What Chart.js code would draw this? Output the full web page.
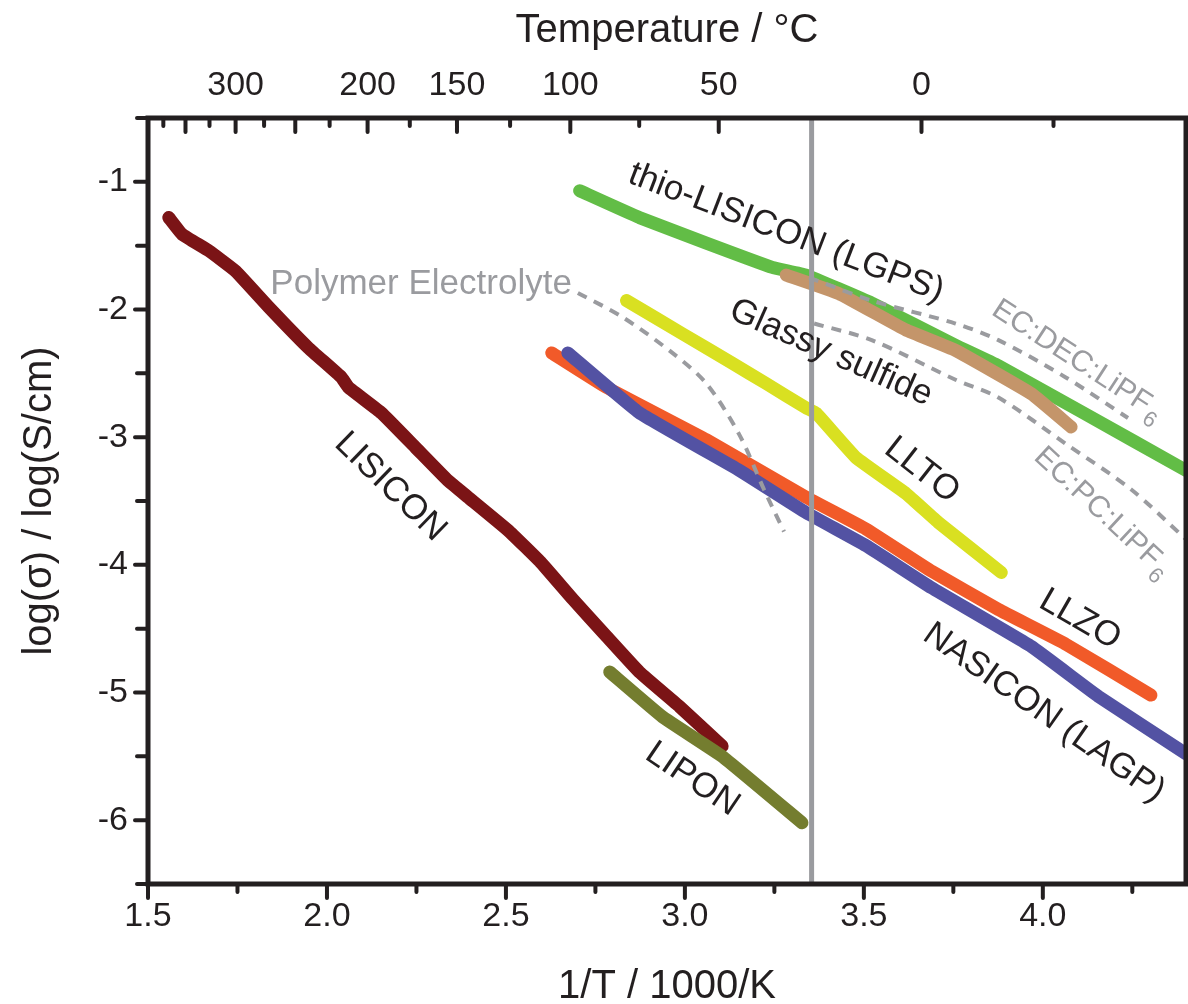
<!DOCTYPE html>
<html>
<head>
<meta charset="utf-8">
<script src="https://cdn.jsdelivr.net/npm/chart.js@4.4.1/dist/chart.umd.min.js"></script>
<style>
	html, body { margin: 0; padding: 0; background: #fff; }
</style>
</head>
<body>
<canvas id="chart" width="1188" height="1004"></canvas>
<script>
"use strict";

// 1/T (1000/K) vs log(sigma)
const lisicon = [[1.558, -1.28], [1.595, -1.41], [1.670, -1.54], [1.745, -1.70], [1.837, -1.98], [1.948, -2.30],
	[2.040, -2.53], [2.060, -2.61], [2.152, -2.81], [2.247, -3.08], [2.338, -3.34], [2.394, -3.47], [2.506, -3.73],
	[2.597, -3.98], [2.687, -4.27], [2.781, -4.56], [2.873, -4.84], [2.985, -5.11], [3.104, -5.42]];
const lipon = [[2.790, -4.84], [2.937, -5.19], [3.104, -5.50], [3.327, -6.02]];
const lgps = [[2.706, -1.07], [2.873, -1.28], [3.060, -1.48], [3.244, -1.67], [3.338, -1.73], [3.522, -1.95],
	[3.756, -2.28], [3.876, -2.44], [4.107, -2.80], [4.40, -3.26]];
const glassy = [[3.283, -1.73], [3.430, -1.875], [3.617, -2.16], [3.756, -2.32], [3.968, -2.66], [4.079, -2.92]];
const llto = [[2.837, -1.93], [2.993, -2.19], [3.132, -2.42], [3.227, -2.58], [3.338, -2.77], [3.366, -2.81],
	[3.478, -3.16], [3.617, -3.44], [3.709, -3.67], [3.884, -4.06]];
const llzo = [[2.628, -2.34], [2.781, -2.61], [3.060, -3.02], [3.338, -3.47], [3.506, -3.72], [3.689, -4.05],
	[3.876, -4.35], [4.063, -4.62], [4.302, -5.02]];
const nasicon = [[2.673, -2.34], [2.873, -2.81], [3.152, -3.26], [3.338, -3.59], [3.506, -3.85], [3.689, -4.18],
	[3.968, -4.64], [4.155, -5.03], [4.40, -5.48]];
const polymer = [[2.701, -1.87], [2.826, -2.06], [2.965, -2.34], [3.060, -2.58], [3.152, -2.98], [3.221, -3.41],
	[3.277, -3.74]];
const ecDec = [[3.347, -1.75], [3.522, -1.93], [3.756, -2.11], [3.876, -2.24], [4.063, -2.53], [4.238, -2.85]];
const ecPc = [[3.361, -2.11], [3.522, -2.24], [3.756, -2.55], [3.876, -2.69], [4.063, -3.05], [4.247, -3.41],
	[4.40, -3.80]];
const roomTemp = 3.354; // 25 °C

const xTicks = [1.5, 2.0, 2.5, 3.0, 3.5, 4.0];
const yTicks = [-6, -5, -4, -3, -2, -1];
const tempLabels = [300, 200, 150, 100, 50, 0];
const tempMarks = [375, 350, 325, 300, 275, 250, 225, 200, 175, 150, 125, 100, 75, 50, 0, -25];

// text, x, y, angle (deg), grey?
const labels = [
	["thio-LISICON (LGPS)", 3.283, -1.40, 21, false],
	["Polymer Electrolyte", 2.263, -1.80, 0, true],
	["Glassy sulfide", 3.408, -2.34, 24, false],
	["LLTO", 3.662, -3.26, 38, false],
	["LLZO", 4.104, -4.43, 30, false],
	["NASICON (LAGP)", 4.003, -5.16, 35, false],
	["LISICON", 2.177, -3.39, 44, false],
	["LIPON", 3.021, -5.68, 34, false],
	["EC:DEC:LiPF|6", 4.097, -2.40, 33, true],
	["EC:PC:LiPF|6", 4.167, -3.59, 43, true],
];

const INK = "#231f20";
const GREY = "#9a9b9f";
const AXIS_FONT = "'Liberation Sans', Arial, Helvetica, sans-serif";
const LABEL_FONT = "'Liberation Sans', Arial, Helvetica, sans-serif";

function pts(arr) {
	return arr.map(p => ({ x: p[0], y: p[1] }));
}

function solid(data, color, order) {
	return {
		data: pts(data),
		borderColor: color,
		borderWidth: 13,
		borderCapStyle: "round",
		borderJoinStyle: "round",
		pointRadius: 0,
		tension: 0.1,
		order: order,
	};
}

function dashed(data, order) {
	return {
		data: pts(data),
		borderColor: GREY,
		borderWidth: 4,
		borderDash: [10, 8],
		pointRadius: 0,
		tension: 0.3,
		order: order,
	};
}

const frame = {
	id: "frame",
	afterDatasetsDraw(chart) {
		const ctx = chart.ctx;
		const a = chart.chartArea;
		const sx = chart.scales.x;
		const sy = chart.scales.y;
		ctx.save();

		// labels on the curves
		for (const [text, x, y, angle, grey] of labels) {
			const px = sx.getPixelForValue(x);
			const py = sy.getPixelForValue(y);
			const parts = text.split("|");
			const mainFont = `${parts.length > 1 ? 30 : 35}px ${LABEL_FONT}`;
			const subFont = `22px ${LABEL_FONT}`;
			ctx.save();
			ctx.translate(px, py);
			ctx.rotate(angle * Math.PI / 180);
			ctx.fillStyle = grey ? GREY : INK;
			ctx.textBaseline = "middle";
			ctx.textAlign = "left";
			ctx.font = mainFont;
			const w = ctx.measureText(parts[0]).width;
			let sub = 0;
			if (parts.length > 1) {
				ctx.font = subFont;
				sub = ctx.measureText(parts[1]).width + 2;
			}
			const x0 = -(w + sub) / 2;
			ctx.font = mainFont;
			ctx.fillText(parts[0], x0, 0);
			if (parts.length > 1) {
				ctx.font = subFont;
				ctx.fillText(parts[1], x0 + w + 2, 11);
			}
			ctx.restore();
		}

		// box
		ctx.strokeStyle = INK;
		ctx.lineWidth = 5;
		ctx.strokeRect(a.left, a.top, a.right - a.left, a.bottom - a.top);

		ctx.lineWidth = 4;
		ctx.lineCap = "round";
		ctx.beginPath();
		// bottom ticks, outside
		for (let v = 1.5; v <= 4.4; v += 0.25) {
			const px = sx.getPixelForValue(v);
			const major = Math.abs(v * 2 - Math.round(v * 2)) < 1e-6;
			ctx.moveTo(px, a.bottom);
			ctx.lineTo(px, a.bottom + (major ? 14 : 8));
		}
		// top ticks, inside
		for (const t of tempMarks) {
			const px = sx.getPixelForValue(1000 / (t + 273.15));
			const major = t % 50 === 0;
			ctx.moveTo(px, a.top);
			ctx.lineTo(px, a.top + (major ? 14 : 8));
		}
		// left ticks, outside
		for (let v = -6.5; v <= -0.5; v += 0.5) {
			const py = sy.getPixelForValue(v);
			const major = Number.isInteger(v);
			ctx.moveTo(a.left, py);
			ctx.lineTo(a.left - (major ? 13 : 11), py);
		}
		ctx.stroke();
		ctx.restore();
	},
};

const tickFont = { family: AXIS_FONT, size: 34 };
const titleFont = { family: AXIS_FONT, size: 40 };

new Chart(document.getElementById("chart"), {
	type: "line",
	data: {
		datasets: [
			{
				data: pts([[roomTemp, -6.5], [roomTemp, -0.5]]),
				borderColor: GREY,
				borderWidth: 5,
				pointRadius: 0,
				order: 0,
			},
			dashed(ecDec, 1),
			dashed(ecPc, 2),
			dashed(polymer, 3),
			solid(glassy, "#c4956a", 4),
			solid(lgps, "#62bd46", 5),
			solid(llto, "#d9e021", 6),
			solid(nasicon, "#5352a3", 7),
			solid(llzo, "#f15a29", 8),
			solid(lipon, "#747d2f", 9),
			solid(lisicon, "#7b1416", 10),
		],
	},
	options: {
		responsive: false,
		animation: false,
		layout: { padding: { left: 0, right: 2, top: 0, bottom: 0 } },
		plugins: {
			legend: { display: false },
			tooltip: { enabled: false },
		},
		scales: {
			x: {
				type: "linear",
				position: "bottom",
				min: 1.5,
				max: 4.4,
				grid: { display: false, drawTicks: false },
				border: { display: false },
				afterBuildTicks: s => { s.ticks = xTicks.map(v => ({ value: v })); },
				afterFit: s => { s.height = 120; },
				ticks: {
					font: tickFont,
					color: INK,
					padding: 12,
					maxRotation: 0,
					autoSkip: false,
					callback: v => v.toFixed(1),
				},
				title: { display: true, text: "1/T / 1000/K", font: titleFont, color: INK, padding: { top: 0, bottom: -7 } },
			},
			xTop: {
				type: "linear",
				position: "top",
				min: 1.5,
				max: 4.4,
				grid: { display: false, drawTicks: false },
				border: { display: false },
				afterBuildTicks: s => { s.ticks = tempLabels.map(t => ({ value: 1000 / (t + 273.15) })); },
				afterFit: s => { s.height = 118; },
				ticks: {
					font: tickFont,
					color: INK,
					padding: 12,
					maxRotation: 0,
					autoSkip: false,
					callback: (v, i) => String(tempLabels[i]),
				},
				title: { display: true, text: "Temperature / °C", font: titleFont, color: INK, padding: { top: 7, bottom: 0 } },
			},
			y: {
				type: "linear",
				position: "left",
				min: -6.5,
				max: -0.5,
				grid: { display: false, drawTicks: false },
				border: { display: false },
				afterBuildTicks: s => { s.ticks = yTicks.map(v => ({ value: v })); },
				afterFit: s => { s.width = 148; },
				ticks: {
					font: tickFont,
					color: INK,
					padding: 20,
					autoSkip: false,
					callback: v => String(v),
				},
				title: { display: true, text: "log(σ) / log(S/cm)", font: titleFont, color: INK, padding: { top: 16, bottom: 0 } },
			},
		},
	},
	plugins: [frame],
});
</script>
</body>
</html>
